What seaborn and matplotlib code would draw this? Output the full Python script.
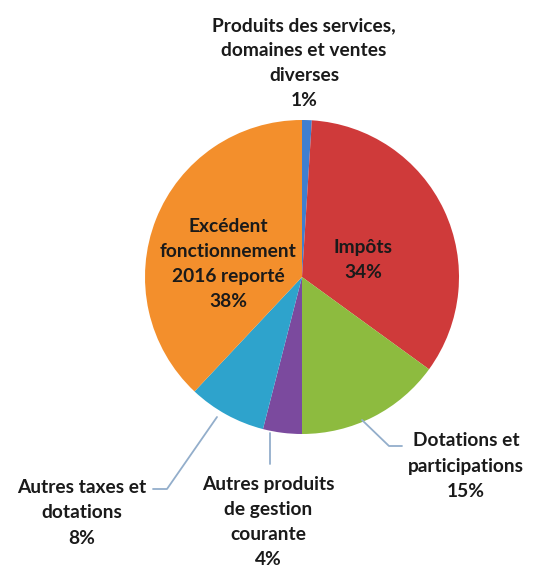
import matplotlib
matplotlib.use("Agg")
import matplotlib.pyplot as plt
import seaborn as sns

sns.set_theme(style="white")
plt.rcParams["font.family"] = ["Lato", "DejaVu Sans"]

# data
categories = [
    "Produits des services,\ndomaines et ventes\ndiverses",
    "Impôts",
    "Dotations et\nparticipations",
    "Autres produits\nde gestion\ncourante",
    "Autres taxes et\ndotations",
    "Excédent\nfonctionnement\n2016 reporté",
]
shares = [1, 34, 15, 4, 8, 38]
colors = ["#3f7fd0", "#cf3a3a", "#8dbb3f", "#7b4a9e", "#2ea3cc", "#f38f2c"]

W, H = 539, 569
fig = plt.figure(figsize=(W / 100, H / 100), dpi=100)
ax = fig.add_axes([0, 0, 1, 1])

cx, cy, r = 302, 277, 157
# y axis is inverted, so counterclock=True draws clockwise on screen
ax.pie(shares, colors=colors, startangle=-90, counterclock=True,
       center=(cx, cy), radius=r, frame=True,
       wedgeprops=dict(linewidth=0))
ax.set_xlim(0, W)
ax.set_ylim(H, 0)
ax.axis("off")

# label positions (pixel coords of label centre)
label_pos = [(304, 63), (363, 260), (466, 466), (268, 522), (82, 513), (228, 264)]
fs = 13.8
for name, v, (x, y) in zip(categories, shares, label_pos):
    ax.text(x, y, f"{name}\n{v}%", ha="center", va="center", fontsize=fs,
            fontweight="bold", color="#1a1a1a", linespacing=1.58)

# leader lines
lc = "#93aecb"
ax.plot([362, 389, 402], [420, 446, 446], color=lc, lw=1.3)
ax.plot([270, 270], [433, 464], color=lc, lw=1.3)
ax.plot([217, 167, 153], [417, 489, 489], color=lc, lw=1.3)

fig.savefig("out.png", dpi=100)
